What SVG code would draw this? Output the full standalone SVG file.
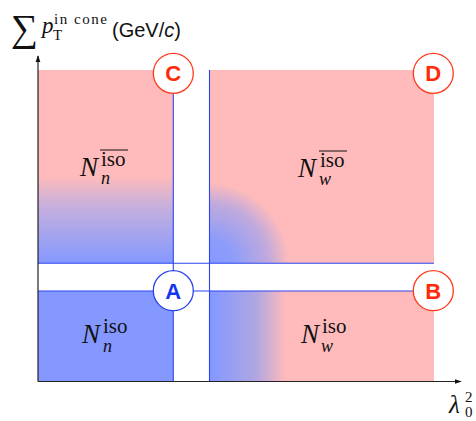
<svg xmlns="http://www.w3.org/2000/svg" width="476" height="421" viewBox="0 0 476 421">
<style>
.ax{stroke:#222;stroke-width:1.2;fill:none}
.bl{stroke:#2a45f0;stroke-width:1.1;fill:none}
.cr{fill:#fff;stroke:#ff3a1c;stroke-width:1.3}
.cb{fill:#fff;stroke:#2a45f0;stroke-width:1.3}
.lr{font-family:"Liberation Sans",Arial,sans-serif;font-weight:bold;font-size:22px;fill:#ff2a0a;text-anchor:middle}
.lb{font-family:"Liberation Sans",Arial,sans-serif;font-weight:bold;font-size:22px;fill:#1535ee;text-anchor:middle}
.m{font-family:"Liberation Serif","Times New Roman",serif;fill:#111}
.mi{font-style:italic}
.sup{font-size:21px}
.sub{font-size:18px;font-style:italic}
</style>
<defs>
<marker id="arr" viewBox="0 0 10 10" refX="9" refY="5" markerWidth="7" markerHeight="7" orient="auto" markerUnits="userSpaceOnUse">
<path d="M0,1.5 L10,5 L0,8.5 Z" fill="#111"/>
</marker>
<linearGradient id="gC" x1="0" y1="70" x2="0" y2="263" gradientUnits="userSpaceOnUse">
<stop offset="0.55" stop-color="#ffbbbb"/>
<stop offset="0.7" stop-color="#c8b0dc"/>
<stop offset="1" stop-color="#8498ff"/>
</linearGradient>
<radialGradient id="gD" cx="209" cy="263" r="80" gradientUnits="userSpaceOnUse">
<stop offset="0" stop-color="#8498ff"/>
<stop offset="0.3" stop-color="#8c9cfa"/>
<stop offset="0.75" stop-color="#c2aadc"/>
<stop offset="1" stop-color="#ffbbbb"/>
</radialGradient>
<linearGradient id="gB" x1="211" y1="0" x2="286" y2="0" gradientUnits="userSpaceOnUse">
<stop offset="0" stop-color="#8498ff"/>
<stop offset="0.6" stop-color="#b0a6e2"/>
<stop offset="1" stop-color="#ffbbbb"/>
</linearGradient>
</defs>

<g id="regions">
<rect x="38" y="70" width="135" height="193" fill="url(#gC)"/>
<rect x="209" y="70" width="225" height="193" fill="url(#gD)"/>
<rect x="38" y="291" width="135" height="90" fill="#8498ff"/>
<rect x="209" y="291" width="225" height="90" fill="url(#gB)"/>
</g>

<g id="connectors">
<line class="bl" x1="173.3" y1="93" x2="173.3" y2="381"/>
<line class="bl" x1="209.5" y1="70" x2="209.5" y2="381"/>
<line class="bl" x1="38" y1="263.3" x2="434" y2="263.3"/>
<line class="bl" x1="38" y1="291" x2="413" y2="291"/>
<line class="ax" x1="38" y1="381.5" x2="38" y2="56"  marker-end="url(#arr)"/>
<line class="ax" x1="38" y1="381.5" x2="461" y2="381.5" marker-end="url(#arr)"/>
</g>

<g id="C"><circle class="cr" cx="173.3" cy="73.3" r="20"/><text class="lr" x="173.3" y="81">C</text></g>
<g id="D"><circle class="cr" cx="433.3" cy="73.3" r="20"/><text class="lr" x="433.3" y="81">D</text></g>
<g id="A"><circle class="cb" cx="173.3" cy="290.7" r="20"/><text class="lb" x="173.3" y="298.5">A</text></g>
<g id="B"><circle class="cr" cx="433.3" cy="290.7" r="20"/><text class="lr" x="433.3" y="298.5">B</text></g>

<g id="label-C" class="m">
<text class="mi" x="80" y="176" font-size="27">N</text>
<text class="sup" x="101" y="166">iso</text>
<line x1="100" y1="150" x2="128" y2="150" stroke="#111" stroke-width="1"/>
<text class="sub" x="101" y="184">n</text>
</g>
<g id="label-D" class="m">
<text class="mi" x="298" y="177" font-size="27">N</text>
<text class="sup" x="320" y="167">iso</text>
<line x1="319" y1="151" x2="347" y2="151" stroke="#111" stroke-width="1"/>
<text class="sub" x="319" y="185">w</text>
</g>
<g id="label-A" class="m">
<text class="mi" x="82" y="342.5" font-size="27">N</text>
<text class="sup" x="103" y="333">iso</text>
<text class="sub" x="103" y="352">n</text>
</g>
<g id="label-B" class="m">
<text class="mi" x="301" y="342.5" font-size="27">N</text>
<text class="sup" x="322" y="333">iso</text>
<text class="sub" x="321" y="352">w</text>
</g>

<g id="ylabel">
<text class="m" x="11" y="41" font-size="38" font-family="DejaVu Serif, serif">∑</text>
<text class="m mi" x="42" y="33" font-size="23">p</text>
<text class="m" x="53" y="40" font-size="15">T</text>
<text class="m" x="54" y="24" font-size="15" textLength="53">in cone</text>
<text x="112" y="37" font-family="Liberation Sans,Arial,sans-serif" font-size="20" fill="#111">(GeV/<tspan font-style="italic">c</tspan>)</text>
</g>
<g id="xlabel">
<text class="m mi" x="449" y="413" font-size="25">λ</text>
<text class="m" x="465" y="402" font-size="15">2</text>
<text class="m" x="465" y="417" font-size="15">0</text>
</g>
</svg>
